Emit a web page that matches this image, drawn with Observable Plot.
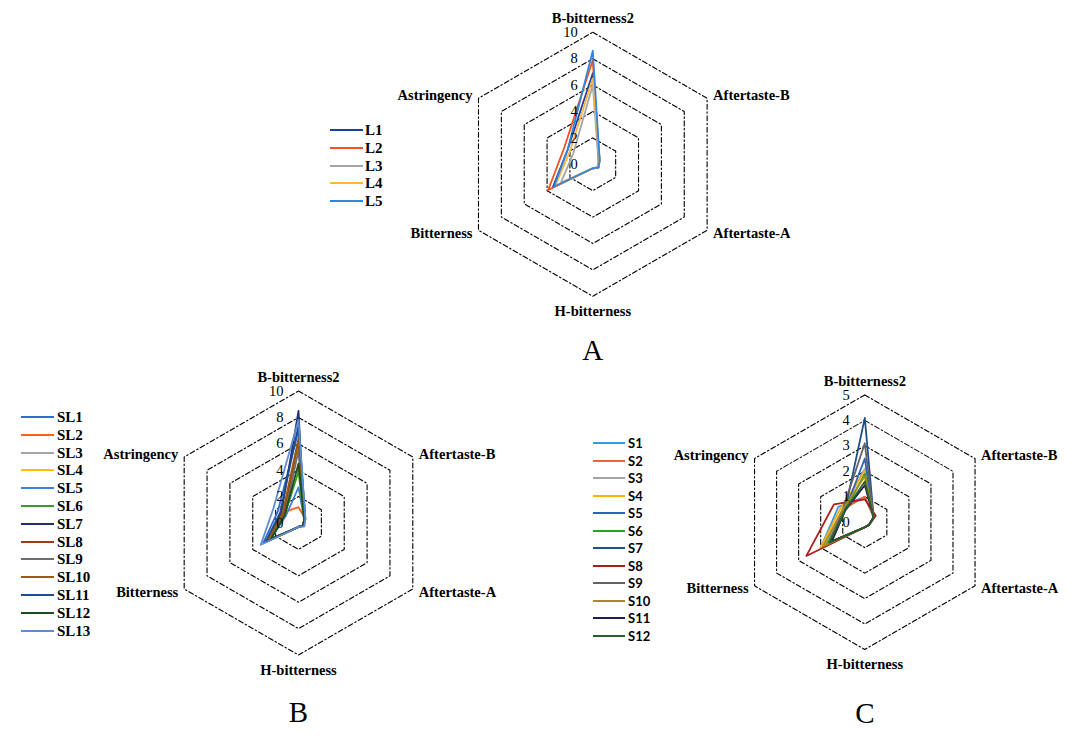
<!DOCTYPE html>
<html>
<head>
<meta charset="utf-8">
<script src="https://cdn.jsdelivr.net/npm/d3@7"></script>
<script src="https://cdn.jsdelivr.net/npm/@observablehq/plot@0.6"></script>
<style>
  html, body { margin: 0; padding: 0; background: #fff; }
  #wrap { position: relative; width: 1077px; height: 740px; overflow: hidden; background: #fff; }
  #wrap svg { position: absolute; left: 0; top: 0; background: transparent; max-width: none; }
  .legend { position: absolute; font-weight: bold; color: #000; }
  .legend .row { position: absolute; left: 0; height: 18px; white-space: nowrap; }
  .legend .sw { position: absolute; top: 8px; height: 0; border-top: 2px solid; }
  .legend .lb { position: absolute; top: 0; line-height: 18px; }
</style>
</head>
<body>
<div id="wrap"></div>
<script>
// ---- data ----
const axesNames = ["B-bitterness2", "Aftertaste-B", "Aftertaste-A", "H-bitterness", "Bitterness", "Astringency"];

const namesA = ["L1", "L2", "L3", "L4", "L5"];
const colorsA = ["#1f3f9e", "#f4511e", "#a5a5a5", "#ffb53c", "#2e86de"];
const valuesA = [
  [6.9, 0.6, 0.5, 0.3, 3.5, 2.2],
  [7.9, 0.5, 0.5, 0.3, 3.9, 2.5],
  [6.0, 0.5, 0.4, 0.3, 2.8, 1.7],
  [6.5, 0.6, 0.5, 0.3, 3.3, 2.0],
  [8.6, 0.6, 0.5, 0.3, 3.4, 2.2]
];

const namesB = ["SL1", "SL2", "SL3", "SL4", "SL5", "SL6", "SL7", "SL8", "SL9", "SL10", "SL11", "SL12", "SL13"];
const colorsB = ["#2e6ccf", "#f4631e", "#a5a5a5", "#ffc000", "#3f7fd8", "#3a9a2a", "#1f2f6e", "#9e3a1a", "#6d6d6d", "#9c5a10", "#1f4e8c", "#1d4d1d", "#5b8fd5"];
const valuesB = [
  [7.0, 0.6, 0.4, 0.3, 3.1, 1.8],
  [1.2, 0.6, 0.5, 0.3, 2.6, 1.5],
  [5.8, 0.5, 0.4, 0.3, 2.5, 1.2],
  [6.0, 0.5, 0.4, 0.3, 2.6, 1.3],
  [2.7, 0.5, 0.4, 0.3, 2.4, 1.1],
  [3.9, 0.5, 0.4, 0.3, 2.5, 1.2],
  [8.5, 0.5, 0.4, 0.3, 2.8, 1.5],
  [6.2, 0.5, 0.4, 0.3, 2.6, 1.3],
  [5.5, 0.5, 0.4, 0.3, 2.5, 1.2],
  [6.4, 0.5, 0.4, 0.3, 2.7, 1.4],
  [7.4, 0.6, 0.4, 0.3, 2.9, 1.6],
  [4.5, 0.5, 0.4, 0.3, 2.4, 1.2],
  [7.8, 0.6, 0.5, 0.3, 3.3, 2.2]
];

const namesC = ["S1", "S2", "S3", "S4", "S5", "S6", "S7", "S8", "S9", "S10", "S11", "S12"];
const colorsC = ["#3a9ad9", "#f0652b", "#a5a5a5", "#ffb000", "#2a64c0", "#2ca02c", "#1f4e8c", "#b01c1c", "#636363", "#a88b1e", "#1f1f4f", "#2c5e2c"];
const valuesC = [
  [1.0, 0.4, 0.2, 0.2, 2.0, 1.2],
  [1.0, 0.4, 0.2, 0.2, 1.7, 1.0],
  [2.1, 0.4, 0.2, 0.2, 1.8, 1.0],
  [2.0, 0.4, 0.2, 0.2, 2.0, 1.1],
  [2.5, 0.4, 0.2, 0.2, 1.6, 0.9],
  [1.9, 0.4, 0.2, 0.2, 1.7, 0.9],
  [4.1, 0.4, 0.2, 0.2, 1.5, 0.9],
  [0.9, 0.5, 0.2, 0.2, 2.65, 1.4],
  [3.1, 0.4, 0.2, 0.2, 1.6, 1.0],
  [1.8, 0.4, 0.2, 0.2, 1.9, 1.0],
  [1.45, 0.4, 0.2, 0.2, 1.5, 0.9],
  [1.6, 0.4, 0.2, 0.2, 1.6, 0.9]
];

// ---- drawing ----
const SERIF = "'Liberation Serif', 'Times New Roman', Times, serif";
const wrap = document.getElementById("wrap");
const ang = k => k * Math.PI / 3;

function radar(cfg) {
  const {cx, cy, R, max, step, names, values, colors, letter, letterDy} = cfg;
  const rows = names.flatMap((s, si) => values[si].map((v, k) => ({
    series: s, axis: axesNames[k], value: v, x: v * Math.sin(ang(k)), y: v * Math.cos(ang(k))
  })));
  const levels = d3.range(step, max + step / 2, step);
  const grid = levels.flatMap(l => d3.range(6).map(k => ({level: l, x: l * Math.sin(ang(k)), y: l * Math.cos(ang(k))})));
  const ticks = d3.range(0, max + step / 2, step).map(t => ({t, x: 0, y: t}));
  const labels = axesNames.map((a, k) => ({a, k, x: max * Math.sin(ang(k)), y: max * Math.cos(ang(k))}));
  const place = [
    {textAnchor: "middle", dx: 0, dy: -14},
    {textAnchor: "start", dx: 6, dy: -3},
    {textAnchor: "start", dx: 6, dy: 3},
    {textAnchor: "middle", dx: 0, dy: 15},
    {textAnchor: "end", dx: -6, dy: 3},
    {textAnchor: "end", dx: -6, dy: -3}
  ];
  const svg = Plot.plot({
    width: 1077, height: 740, margin: 0,
    style: {background: "transparent", fontFamily: SERIF, overflow: "visible"},
    x: {domain: [-max, max], range: [cx - R, cx + R], axis: null},
    y: {domain: [-max, max], range: [cy + R, cy - R], axis: null},
    color: {domain: names, range: colors},
    marks: [
      Plot.line(grid, {x: "x", y: "y", z: "level", curve: "linear-closed", stroke: "#000", strokeWidth: 1.1, strokeDasharray: "5,2.5,1.5,2.5"}),
      Plot.line(rows, {x: "x", y: "y", z: "series", stroke: "series", curve: "linear-closed", strokeWidth: 1.8}),
      Plot.text(ticks, {x: "x", y: "y", text: "t", textAnchor: "end", dx: -15, fontSize: 14.5, fill: "#000", fontFamily: SERIF}),
      ...labels.map((d, k) => Plot.text([d], {x: "x", y: "y", text: "a", fontSize: 14.5, fontWeight: "bold", fill: "#000", fontFamily: SERIF, ...place[k]})),
      Plot.text([{letter, x: 0, y: -max}], {x: "x", y: "y", text: "letter", dy: letterDy, fontSize: 29, fill: "#000", fontFamily: SERIF})
    ]
  });
  wrap.appendChild(svg);
}

function legend(cfg) {
  const {left, top, gap, names, colors, lineLen, textX, font, size} = cfg;
  const div = document.createElement("div");
  div.className = "legend";
  div.style.left = left + "px";
  div.style.top = top + "px";
  div.style.fontFamily = font;
  div.style.fontSize = size + "px";
  names.forEach((n, i) => {
    const row = document.createElement("div");
    row.className = "row";
    row.style.top = (i * gap) + "px";
    const sw = document.createElement("div");
    sw.className = "sw";
    sw.style.left = "0px";
    sw.style.width = lineLen + "px";
    sw.style.borderTopColor = colors[i];
    const lb = document.createElement("div");
    lb.className = "lb";
    lb.style.left = textX + "px";
    lb.textContent = n;
    row.appendChild(sw);
    row.appendChild(lb);
    div.appendChild(row);
  });
  wrap.appendChild(div);
}

radar({cx: 592.3, cy: 163.8, R: 132, max: 10, step: 2, names: namesA, values: valuesA, colors: colorsA, letter: "A", letterDy: 54});
radar({cx: 298, cy: 522.5, R: 132, max: 10, step: 2, names: namesB, values: valuesB, colors: colorsB, letter: "B", letterDy: 58});
radar({cx: 864.3, cy: 521.7, R: 127.3, max: 5, step: 1, names: namesC, values: valuesC, colors: colorsC, letter: "C", letterDy: 64});

legend({left: 330, top: 121, gap: 17.8, names: namesA, colors: colorsA, lineLen: 33, textX: 35, font: SERIF, size: 15});
legend({left: 21, top: 408, gap: 17.8, names: namesB, colors: colorsB, lineLen: 33, textX: 36, font: SERIF, size: 15});
legend({left: 593, top: 434, gap: 17.5, names: namesC, colors: colorsC, lineLen: 32, textX: 35, font: "Lato, 'Open Sans', sans-serif", size: 13});
</script>
</body>
</html>
